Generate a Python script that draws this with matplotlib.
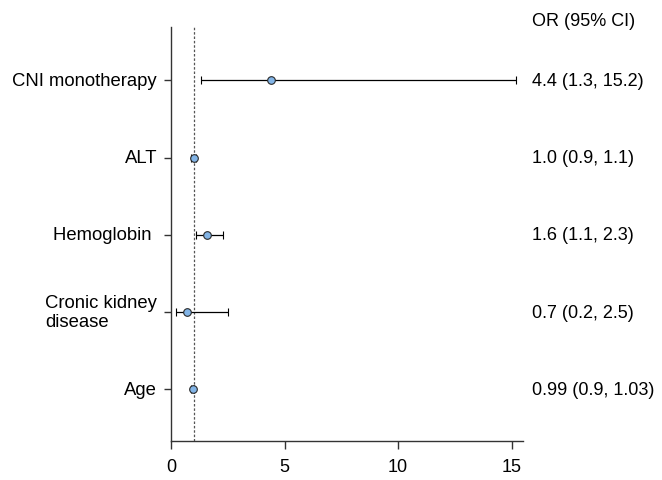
import matplotlib
matplotlib.use("Agg")
import matplotlib.pyplot as plt

# Data
labels = ["CNI monotherapy", "ALT", "Hemoglobin ", "Cronic kidney\ndisease", "Age"]
odds = [4.4, 1.0, 1.6, 0.7, 0.99]
ci_low = [1.3, 0.9, 1.1, 0.2, 0.9]
ci_high = [15.2, 1.1, 2.3, 2.5, 1.03]
or_text = ["4.4 (1.3, 15.2)", "1.0 (0.9, 1.1)", "1.6 (1.1, 2.3)",
           "0.7 (0.2, 2.5)", "0.99 (0.9, 1.03)"]
xticks = [0, 5, 10, 15]

plt.rcParams['font.family'] = ['Liberation Sans', 'DejaVu Sans']
plt.rcParams['font.size'] = 13

fig = plt.figure(figsize=(6.62, 4.81), dpi=100)
ax = fig.add_axes([0.2583, 0.0811, 0.79 - 0.2583, 0.9418 - 0.0811])

ypos = list(range(len(labels), 0, -1))
err = [[o - l for o, l in zip(odds, ci_low)], [h - o for o, h in zip(odds, ci_high)]]

ax.axvline(1, color="#555555", lw=0.9, ls=(0, (2, 1.5)), zorder=1)
ax.errorbar(odds, ypos, xerr=err, fmt="o", color="black", ecolor="black",
            elinewidth=0.9, capsize=3, capthick=0.9, markersize=5.5,
            markerfacecolor="#82b4e6", markeredgecolor="#2a2a2a",
            markeredgewidth=0.8, zorder=3)

ax.set_xlim(0, 15.5)
ax.set_ylim(0.33, 5.69)
ax.set_xticks(xticks)
ax.set_yticks(ypos)
ax.set_yticklabels(labels, fontsize=13.3)
for t in ax.get_yticklabels():
    t.set_multialignment("left")
    t.set_verticalalignment("center")
ax.tick_params(axis="x", length=6, width=1, labelsize=13, color="#333333", pad=6)
ax.tick_params(axis="y", length=5, width=1, color="#333333", pad=5)

for s in ["top", "right"]:
    ax.spines[s].set_visible(False)
for s in ["left", "bottom"]:
    ax.spines[s].set_color("#333333")
    ax.spines[s].set_linewidth(1)

# OR column on the right
for y, txt in zip(ypos, or_text):
    ax.text(1.026, y, txt, transform=ax.get_yaxis_transform(),
            ha="left", va="center", fontsize=13, clip_on=False)
ax.text(1.026, 5.77, "OR (95% CI)", transform=ax.get_yaxis_transform(),
        ha="left", va="center", fontsize=13, clip_on=False)

fig.savefig("out.png", dpi=100)
